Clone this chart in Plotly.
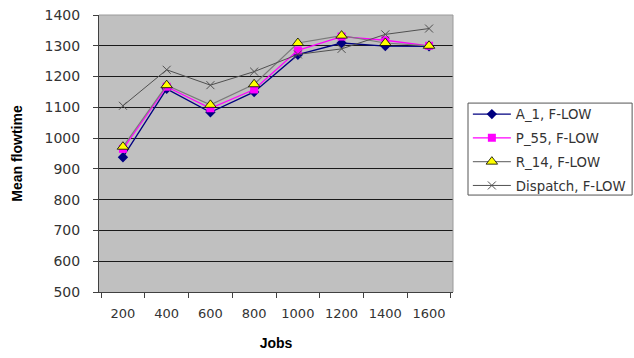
import plotly.graph_objects as go

jobs = ["200", "400", "600", "800", "1000", "1200", "1400", "1600"]
a1_flow = [938, 1160, 1084, 1150, 1271, 1309, 1299, 1298]
p55_flow = [965, 1167, 1097, 1158, 1285, 1330, 1318, 1300]
r14_flow = [972, 1172, 1108, 1175, 1309, 1333, 1309, 1300]
dispatch_flow = [1105, 1222, 1172, 1216, 1272, 1290, 1337, 1356]
y_ticks = [500, 600, 700, 800, 900, 1000, 1100, 1200, 1300, 1400]

font = "DejaVu Sans, Liberation Sans, Arial, sans-serif"
bold_font = "Liberation Sans, Arial, sans-serif"

fig = go.Figure()
fig.add_trace(go.Scatter(
    x=jobs, y=a1_flow, name="A_1, F-LOW", mode="lines+markers", legendgroup="a1",
    line=dict(color="#000080", width=1.3),
    marker=dict(symbol="diamond", size=8, color="#000080"),
))
fig.add_trace(go.Scatter(
    x=jobs, y=p55_flow, name="P_55, F-LOW", mode="lines+markers", legendgroup="p55",
    line=dict(color="#FF00FF", width=1.3),
    marker=dict(symbol="square", size=8, color="#FF00FF"),
))
fig.add_trace(go.Scatter(
    x=jobs, y=r14_flow, name="R_14, F-LOW", mode="lines+markers", legendgroup="r14",
    line=dict(color="#7a7a7a", width=1.2),
    marker=dict(symbol="triangle-up", size=10, color="#FFFF00",
                line=dict(color="#000000", width=0.8)),
))
fig.add_trace(go.Scatter(
    x=jobs, y=dispatch_flow, name="Dispatch, F-LOW", mode="lines+markers", legendgroup="disp",
    line=dict(color="#505050", width=1),
    marker=dict(symbol="x-thin", size=8, color="#505050",
                line=dict(color="#505050", width=1)),
))

fig.update_layout(
    width=634, height=358,
    margin=dict(l=99, r=181, t=15, b=66, autoexpand=False),
    paper_bgcolor="white", plot_bgcolor="#C0C0C0",
    font=dict(family=font, size=12, color="#333333"),
    showlegend=True,
    legend=dict(
        x=1.042, y=0.697, xanchor="left", yanchor="top",
        borderwidth=0, bgcolor="rgba(0,0,0,0)",
        font=dict(family=font, size=13.3, color="#333333"),
        tracegroupgap=3.5, itemsizing="trace", itemwidth=38,
    ),
    xaxis=dict(
        type="category", categoryorder="array", categoryarray=jobs,
        tickson="boundaries", ticks="outside", ticklen=5, tickcolor="#404040",
        ticklabelstandoff=9,
        showline=True, linecolor="#404040", linewidth=1,
        showgrid=False, zeroline=False,
        tickfont=dict(family=font, size=13, color="#333333"),
        title=dict(text="<b>Jobs</b>", font=dict(family=bold_font, size=14, color="#000000"),
                   standoff=18),
    ),
    yaxis=dict(
        range=[500, 1400], tickvals=y_ticks,
        ticks="outside", ticklen=5, tickcolor="#404040",
        ticklabelstandoff=10,
        showline=True, linecolor="#404040", linewidth=1,
        showgrid=True, gridcolor="#1a1a1a", gridwidth=1, zeroline=False,
        tickfont=dict(family=font, size=14, color="#333333"),
        title=dict(text="<b>Mean flowtime</b>", font=dict(family=bold_font, size=14, color="#000000"),
                   standoff=18),
    ),
    shapes=[
        # light top/right edges of the plot area
        dict(type="line", xref="paper", yref="paper", x0=0, x1=1, y0=1, y1=1,
             line=dict(color="#9a9a9a", width=1)),
        dict(type="line", xref="paper", yref="paper", x0=1, x1=1, y0=0, y1=1,
             line=dict(color="#9a9a9a", width=1)),
        # legend frame
        dict(type="rect", xref="paper", yref="paper",
             x0=1.0424, x1=1.506, y0=0.350, y1=0.682,
             line=dict(color="#555555", width=1), fillcolor="white", layer="below"),
    ],
)

fig.write_html("out.html")
